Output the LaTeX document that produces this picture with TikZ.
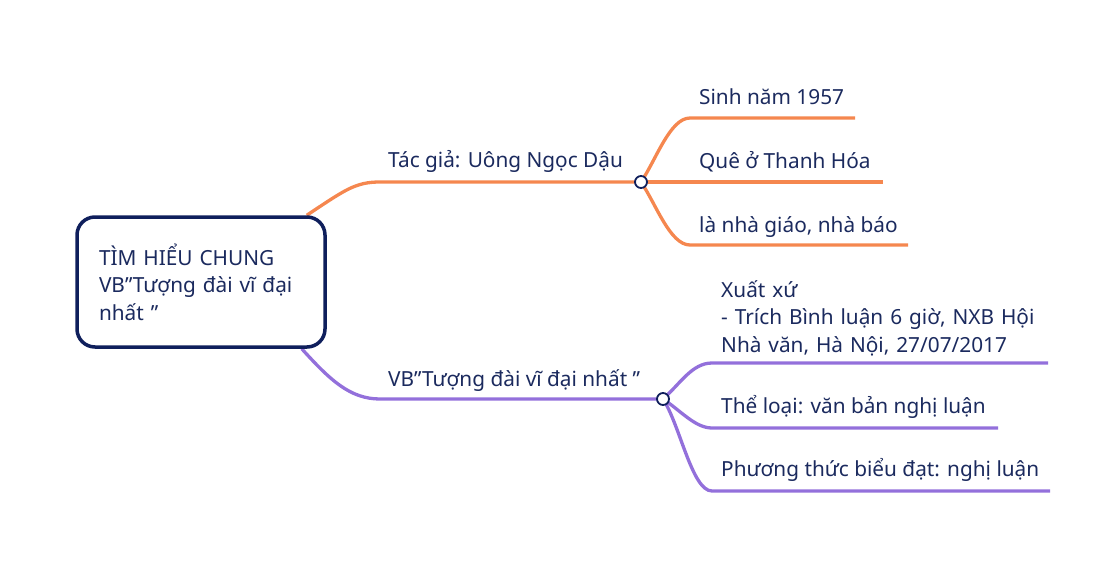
\documentclass[tikz,border=0pt]{standalone}
\usepackage{fontspec}
\setmainfont{Noto Sans}
\usetikzlibrary{positioning, backgrounds}
\definecolor{navy}{HTML}{0F1F5C}
\definecolor{coral}{HTML}{F5874F}
\definecolor{lilac}{HTML}{9370DB}
\definecolor{inktext}{HTML}{1B2A5E}

\begin{document}
\begin{tikzpicture}[x=1pt, y=-1pt, font=\fontsize{20.8}{27.5}\selectfont, text=inktext]
    % Styles for boxes and branches
    \tikzstyle{rootbox} = [rectangle, draw=navy, line width=3.5pt, rounded corners=18pt, fill=white, minimum width=248pt, minimum height=130pt, text width=204pt, align=left, inner sep=0pt]
    \tikzstyle{hub} = [circle, draw=navy, fill=white, line width=1.8pt, minimum size=12pt, inner sep=0pt]
    \tikzstyle{leaf} = [anchor=base west, inner sep=0pt]
    \tikzstyle{orangebranch} = [coral, line width=3.3pt]
    \tikzstyle{purplebranch} = [lilac, line width=3.3pt]

    \useasboundingbox (0,0) rectangle (1116,571);

    % Nodes
    \node[rootbox] (root) at (201,282) {TÌM HIỂU CHUNG\\ VB”Tượng đài vĩ đại\\ nhất ”};
    \node[hub] (hubA) at (641,182) {};
    \node[hub] (hubB) at (663,399) {};

    % Text on the branches
    \node[leaf] (author) at (388,167) {Tác giả: Uông Ngọc Dậu};
    \node[leaf] (work) at (388,386) {VB”Tượng đài vĩ đại nhất ”};
    \node[leaf] (born) at (699,104) {Sinh năm 1957};
    \node[leaf] (home) at (699,168) {Quê ở Thanh Hóa};
    \node[leaf] (job) at (699,232) {là nhà giáo, nhà báo};
    \node[leaf, text width=330pt, align=left] (source) at (721,297) {Xuất xứ\\ - Trích Bình luận 6 giờ, NXB Hội\\ Nhà văn, Hà Nội, 27/07/2017};
    \node[leaf] (genre) at (721,413) {Thể loại: văn bản nghị luận};
    \node[leaf] (mode) at (721,476) {Phương thức biểu đạt: nghị luận};

    % Line ends
    \coordinate (bornEnd) at (855,118);
    \coordinate (homeEnd) at (883,182);
    \coordinate (jobEnd) at (908,245);
    \coordinate (sourceEnd) at (1048,363);
    \coordinate (genreEnd) at (998,428);
    \coordinate (modeEnd) at (1050,491);

    % Branches
    \begin{scope}[on background layer]
        \draw[orangebranch] ([xshift=-20pt]root.north east) .. controls (345,190) and (355,182) .. (380,182) -- (hubA.center);
        \draw[purplebranch] ([xshift=-25pt]root.south east) .. controls (330,380) and (350,399) .. (380,399) -- (hubB.center);
        \draw[orangebranch] (hubA.center) .. controls (656,160) and (670,118) .. (690,118) -- (bornEnd);
        \draw[orangebranch] (hubA.center) -- (homeEnd);
        \draw[orangebranch] (hubA.center) .. controls (656,204) and (670,245) .. (690,245) -- (jobEnd);
        \draw[purplebranch] (hubB.center) .. controls (680,384) and (692,363) .. (712,363) -- (sourceEnd);
        \draw[purplebranch] (hubB.center) .. controls (680,410) and (695,428) .. (712,428) -- (genreEnd);
        \draw[purplebranch] (hubB.center) .. controls (680,425) and (692,491) .. (712,491) -- (modeEnd);
    \end{scope}
\end{tikzpicture}
\end{document}
